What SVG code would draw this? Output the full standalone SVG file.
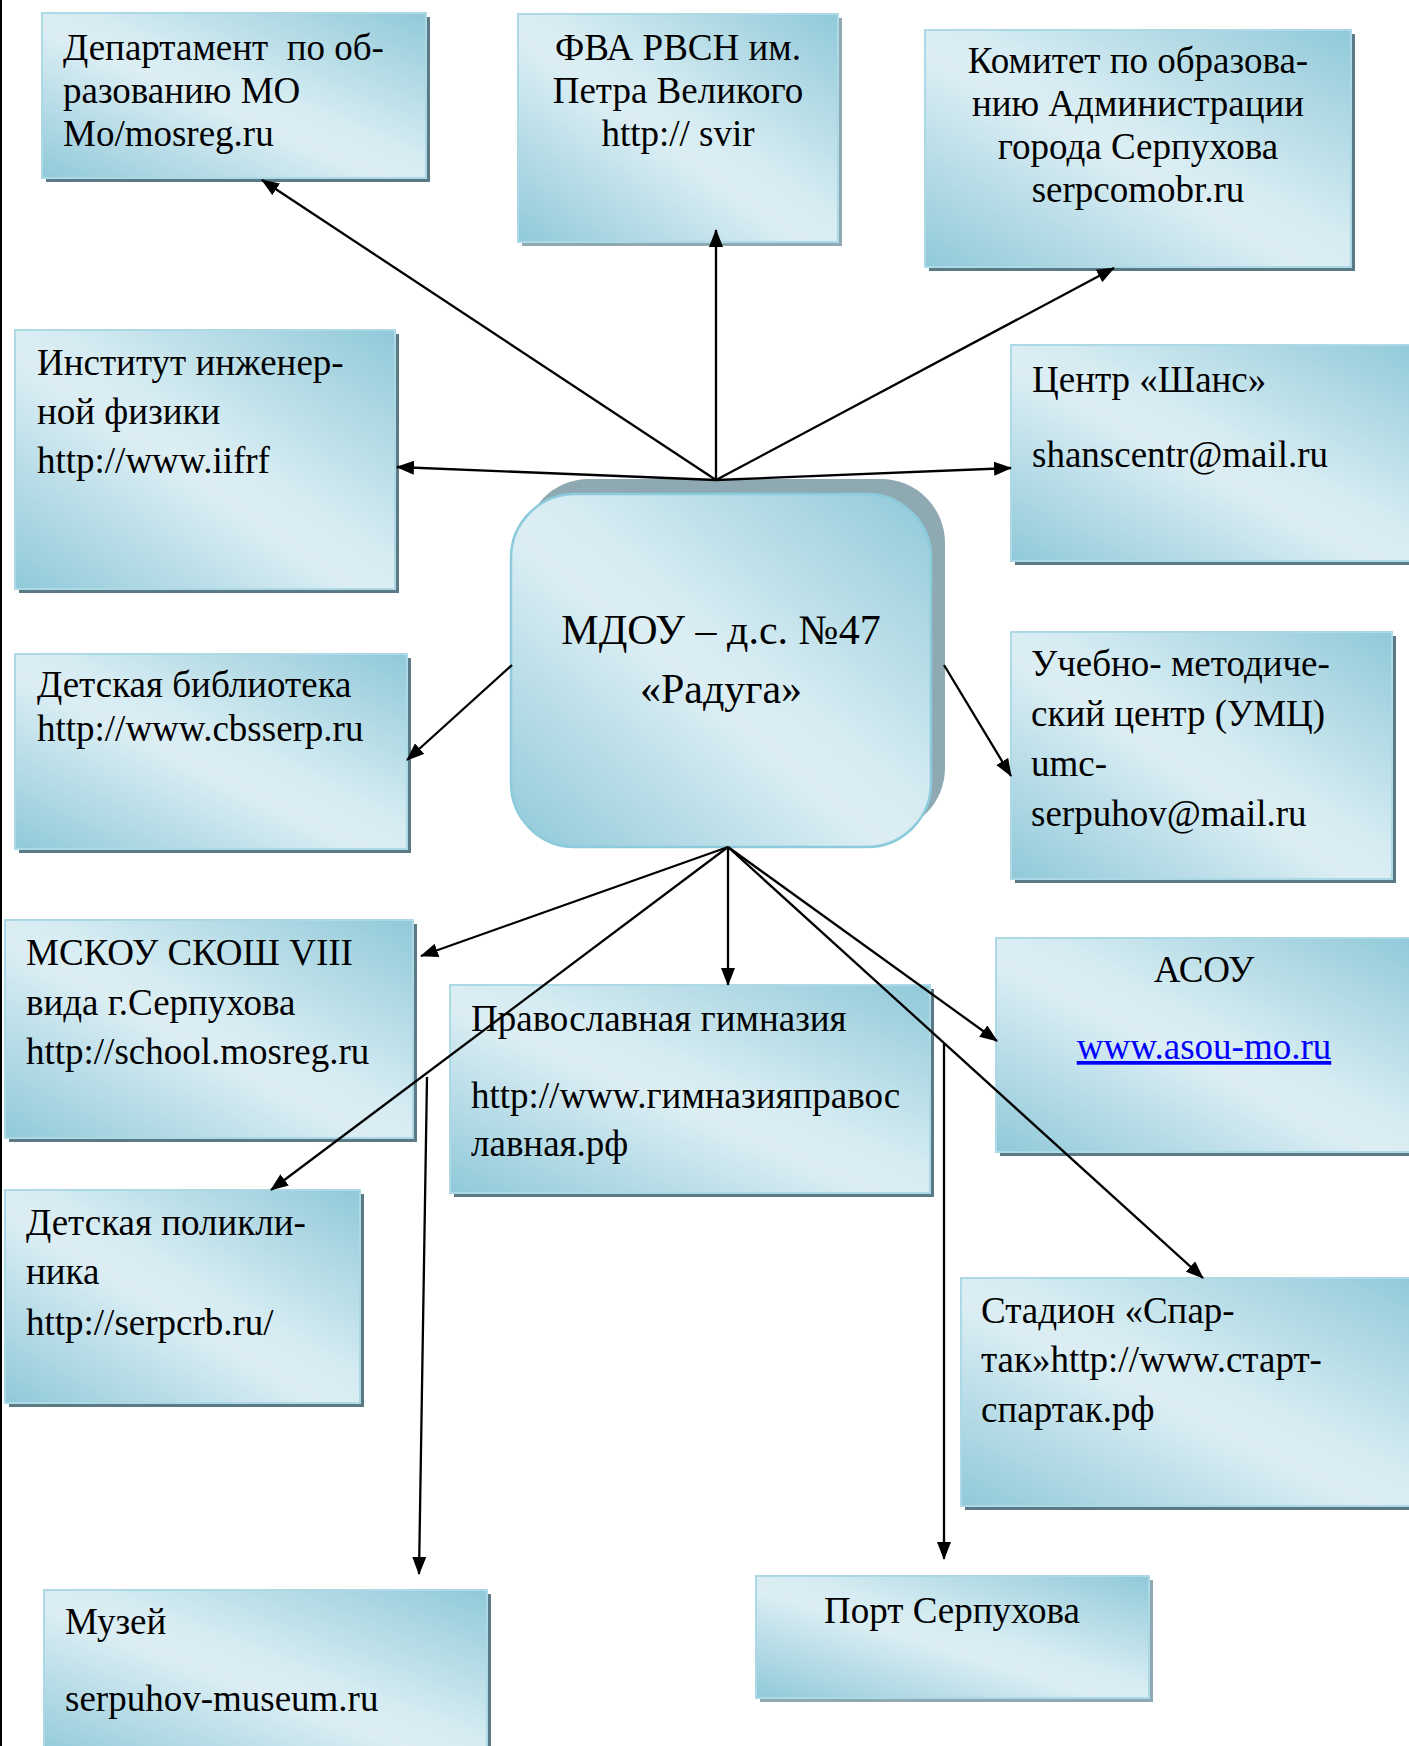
<svg xmlns="http://www.w3.org/2000/svg" width="1409" height="1746" viewBox="0 0 1409 1746">
<style>
.t{font-family:"Liberation Serif","Times New Roman",serif;font-size:37px;fill:#000}
.c{text-anchor:middle}
.big{font-size:42px}
.box{fill:url(#g);stroke:#acd9e5;stroke-width:2}
.sh{fill:#5a7a85}
.sh2{fill:#8ea9b1}
.ln{stroke:#000;stroke-width:2.3;fill:none;marker-end:url(#ah)}
.link{fill:#0000ff;text-decoration:underline}
</style>
<defs>
<linearGradient id="g" x1="1" y1="0" x2="0" y2="1">
<stop offset="0" stop-color="#90c9d9"/>
<stop offset="0.45" stop-color="#d6ecf2"/>
<stop offset="0.55" stop-color="#dceef4"/>
<stop offset="1" stop-color="#90c9d9"/>
</linearGradient>
<marker id="ah" markerUnits="userSpaceOnUse" markerWidth="18" markerHeight="14" refX="17" refY="7" orient="auto">
<path d="M0,0 L18,7 L0,14 z" fill="#000"/>
</marker>
</defs>
<rect width="1409" height="1746" fill="#fff"/>
<line x1="1" y1="0" x2="1" y2="1746" stroke="#000" stroke-width="2"/>

<g id="dept">
<rect class="sh" x="46" y="17" width="384" height="165"/>
<rect class="box" x="42" y="13" width="384" height="165"/>
<text class="t" x="63" y="60">Департамент&#160; по об-</text>
<text class="t" x="63" y="103">разованию МО</text>
<text class="t" x="63" y="146">Mo/mosreg.ru</text>
</g>

<g id="fva">
<rect class="sh2" x="522" y="18" width="320" height="228"/>
<rect class="box" x="518" y="14" width="320" height="228"/>
<text class="t c" x="678" y="60">ФВА РВСН им.</text>
<text class="t c" x="678" y="103">Петра Великого</text>
<text class="t c" x="678" y="146">http:// svir</text>
</g>

<g id="komitet">
<rect class="sh" x="929" y="34" width="426" height="237"/>
<rect class="box" x="925" y="30" width="426" height="237"/>
<text class="t c" x="1138" y="73">Комитет по образова-</text>
<text class="t c" x="1138" y="116">нию Администрации</text>
<text class="t c" x="1138" y="159">города Серпухова</text>
<text class="t c" x="1138" y="202">serpcomobr.ru</text>
</g>

<g id="institut">
<rect class="sh" x="19" y="334" width="380" height="259"/>
<rect class="box" x="15" y="330" width="380" height="259"/>
<text class="t" x="37" y="375">Институт инженер-</text>
<text class="t" x="37" y="424">ной физики</text>
<text class="t" x="37" y="473">http://www.iifrf</text>
</g>

<g id="shans">
<rect class="sh" x="1015" y="349" width="410" height="216"/>
<rect class="box" x="1011" y="345" width="410" height="216"/>
<text class="t" x="1032" y="392">Центр «Шанс»</text>
<text class="t" x="1032" y="467">shanscentr@mail.ru</text>
</g>

<g id="mdou">
<rect x="525" y="479" width="420" height="353" rx="64" fill="#8ea9b1"/>
<rect x="511" y="494" width="420" height="353" rx="64" fill="url(#g)" stroke="#8ccbdb" stroke-width="2.5"/>
<text class="t c big" x="721" y="644">МДОУ – д.с. №47</text>
<text class="t c big" x="721" y="703">«Радуга»</text>
</g>

<g id="biblioteka">
<rect class="sh" x="19" y="658" width="392" height="195"/>
<rect class="box" x="15" y="654" width="392" height="195"/>
<text class="t" x="37" y="697">Детская библиотека</text>
<text class="t" x="37" y="741">http://www.cbsserp.ru</text>
</g>

<g id="umc">
<rect class="sh" x="1015" y="636" width="381" height="247"/>
<rect class="box" x="1011" y="632" width="381" height="247"/>
<text class="t" x="1031" y="676">Учебно- методиче-</text>
<text class="t" x="1031" y="726">ский центр (УМЦ)</text>
<text class="t" x="1031" y="776">umc-</text>
<text class="t" x="1031" y="826">serpuhov@mail.ru</text>
</g>

<g id="mskou">
<rect class="sh" x="9" y="924" width="408" height="218"/>
<rect class="box" x="5" y="920" width="408" height="218"/>
<text class="t" x="26" y="965">МСКОУ СКОШ VIII</text>
<text class="t" x="26" y="1015">вида г.Серпухова</text>
<text class="t" x="26" y="1064">http://school.mosreg.ru</text>
</g>

<g id="gimnaziya">
<rect class="sh" x="454" y="989" width="480" height="208"/>
<rect class="box" x="450" y="985" width="480" height="208"/>
<text class="t" x="471" y="1031">Православная гимназия</text>
<text class="t" x="471" y="1108">http://www.гимназияправос</text>
<text class="t" x="471" y="1156">лавная.рф</text>
</g>

<g id="asou">
<rect class="sh" x="1000" y="942" width="420" height="214"/>
<rect class="box" x="996" y="938" width="420" height="214"/>
<text class="t c" x="1204" y="982">АСОУ</text>
<text class="t c link" x="1204" y="1059">www.asou-mo.ru</text>
</g>

<g id="poliklinika">
<rect class="sh" x="9" y="1194" width="355" height="213"/>
<rect class="box" x="5" y="1190" width="355" height="213"/>
<text class="t" x="26" y="1235">Детская поликли-</text>
<text class="t" x="26" y="1284">ника</text>
<text class="t" x="26" y="1335">http://serpcrb.ru/</text>
</g>

<g id="stadion">
<rect class="sh" x="965" y="1282" width="460" height="228"/>
<rect class="box" x="961" y="1278" width="460" height="228"/>
<text class="t" x="981" y="1323">Стадион «Спар-</text>
<text class="t" x="981" y="1372">так»http://www.старт-</text>
<text class="t" x="981" y="1422">спартак.рф</text>
</g>

<g id="muzei">
<rect class="sh" x="48" y="1594" width="443" height="170"/>
<rect class="box" x="44" y="1590" width="443" height="170"/>
<text class="t" x="65" y="1634">Музей</text>
<text class="t" x="65" y="1711">serpuhov-museum.ru</text>
</g>

<g id="port">
<rect class="sh2" x="760" y="1580" width="393" height="122"/>
<rect class="box" x="756" y="1576" width="393" height="122"/>
<text class="t c" x="952" y="1623">Порт Серпухова</text>
</g>

<g id="connectors">
<line class="ln" x1="716" y1="480" x2="262" y2="180"/>
<line class="ln" x1="716" y1="480" x2="716" y2="230"/>
<line class="ln" x1="716" y1="480" x2="1114" y2="268"/>
<line class="ln" x1="716" y1="480" x2="397" y2="467"/>
<line class="ln" x1="716" y1="480" x2="1011" y2="468"/>
<line class="ln" x1="512" y1="665" x2="407" y2="760"/>
<line class="ln" x1="944" y1="665" x2="1011" y2="776"/>
<line class="ln" x1="728" y1="847" x2="421" y2="956"/>
<line class="ln" x1="728" y1="847" x2="271" y2="1190"/>
<line class="ln" x1="728" y1="847" x2="728" y2="985"/>
<line class="ln" x1="728" y1="847" x2="997" y2="1041"/>
<line class="ln" x1="728" y1="847" x2="1203" y2="1278"/>
<line class="ln" x1="427" y1="1077" x2="419" y2="1574"/>
<line class="ln" x1="944" y1="1044" x2="944" y2="1559"/>
</g>
</svg>
